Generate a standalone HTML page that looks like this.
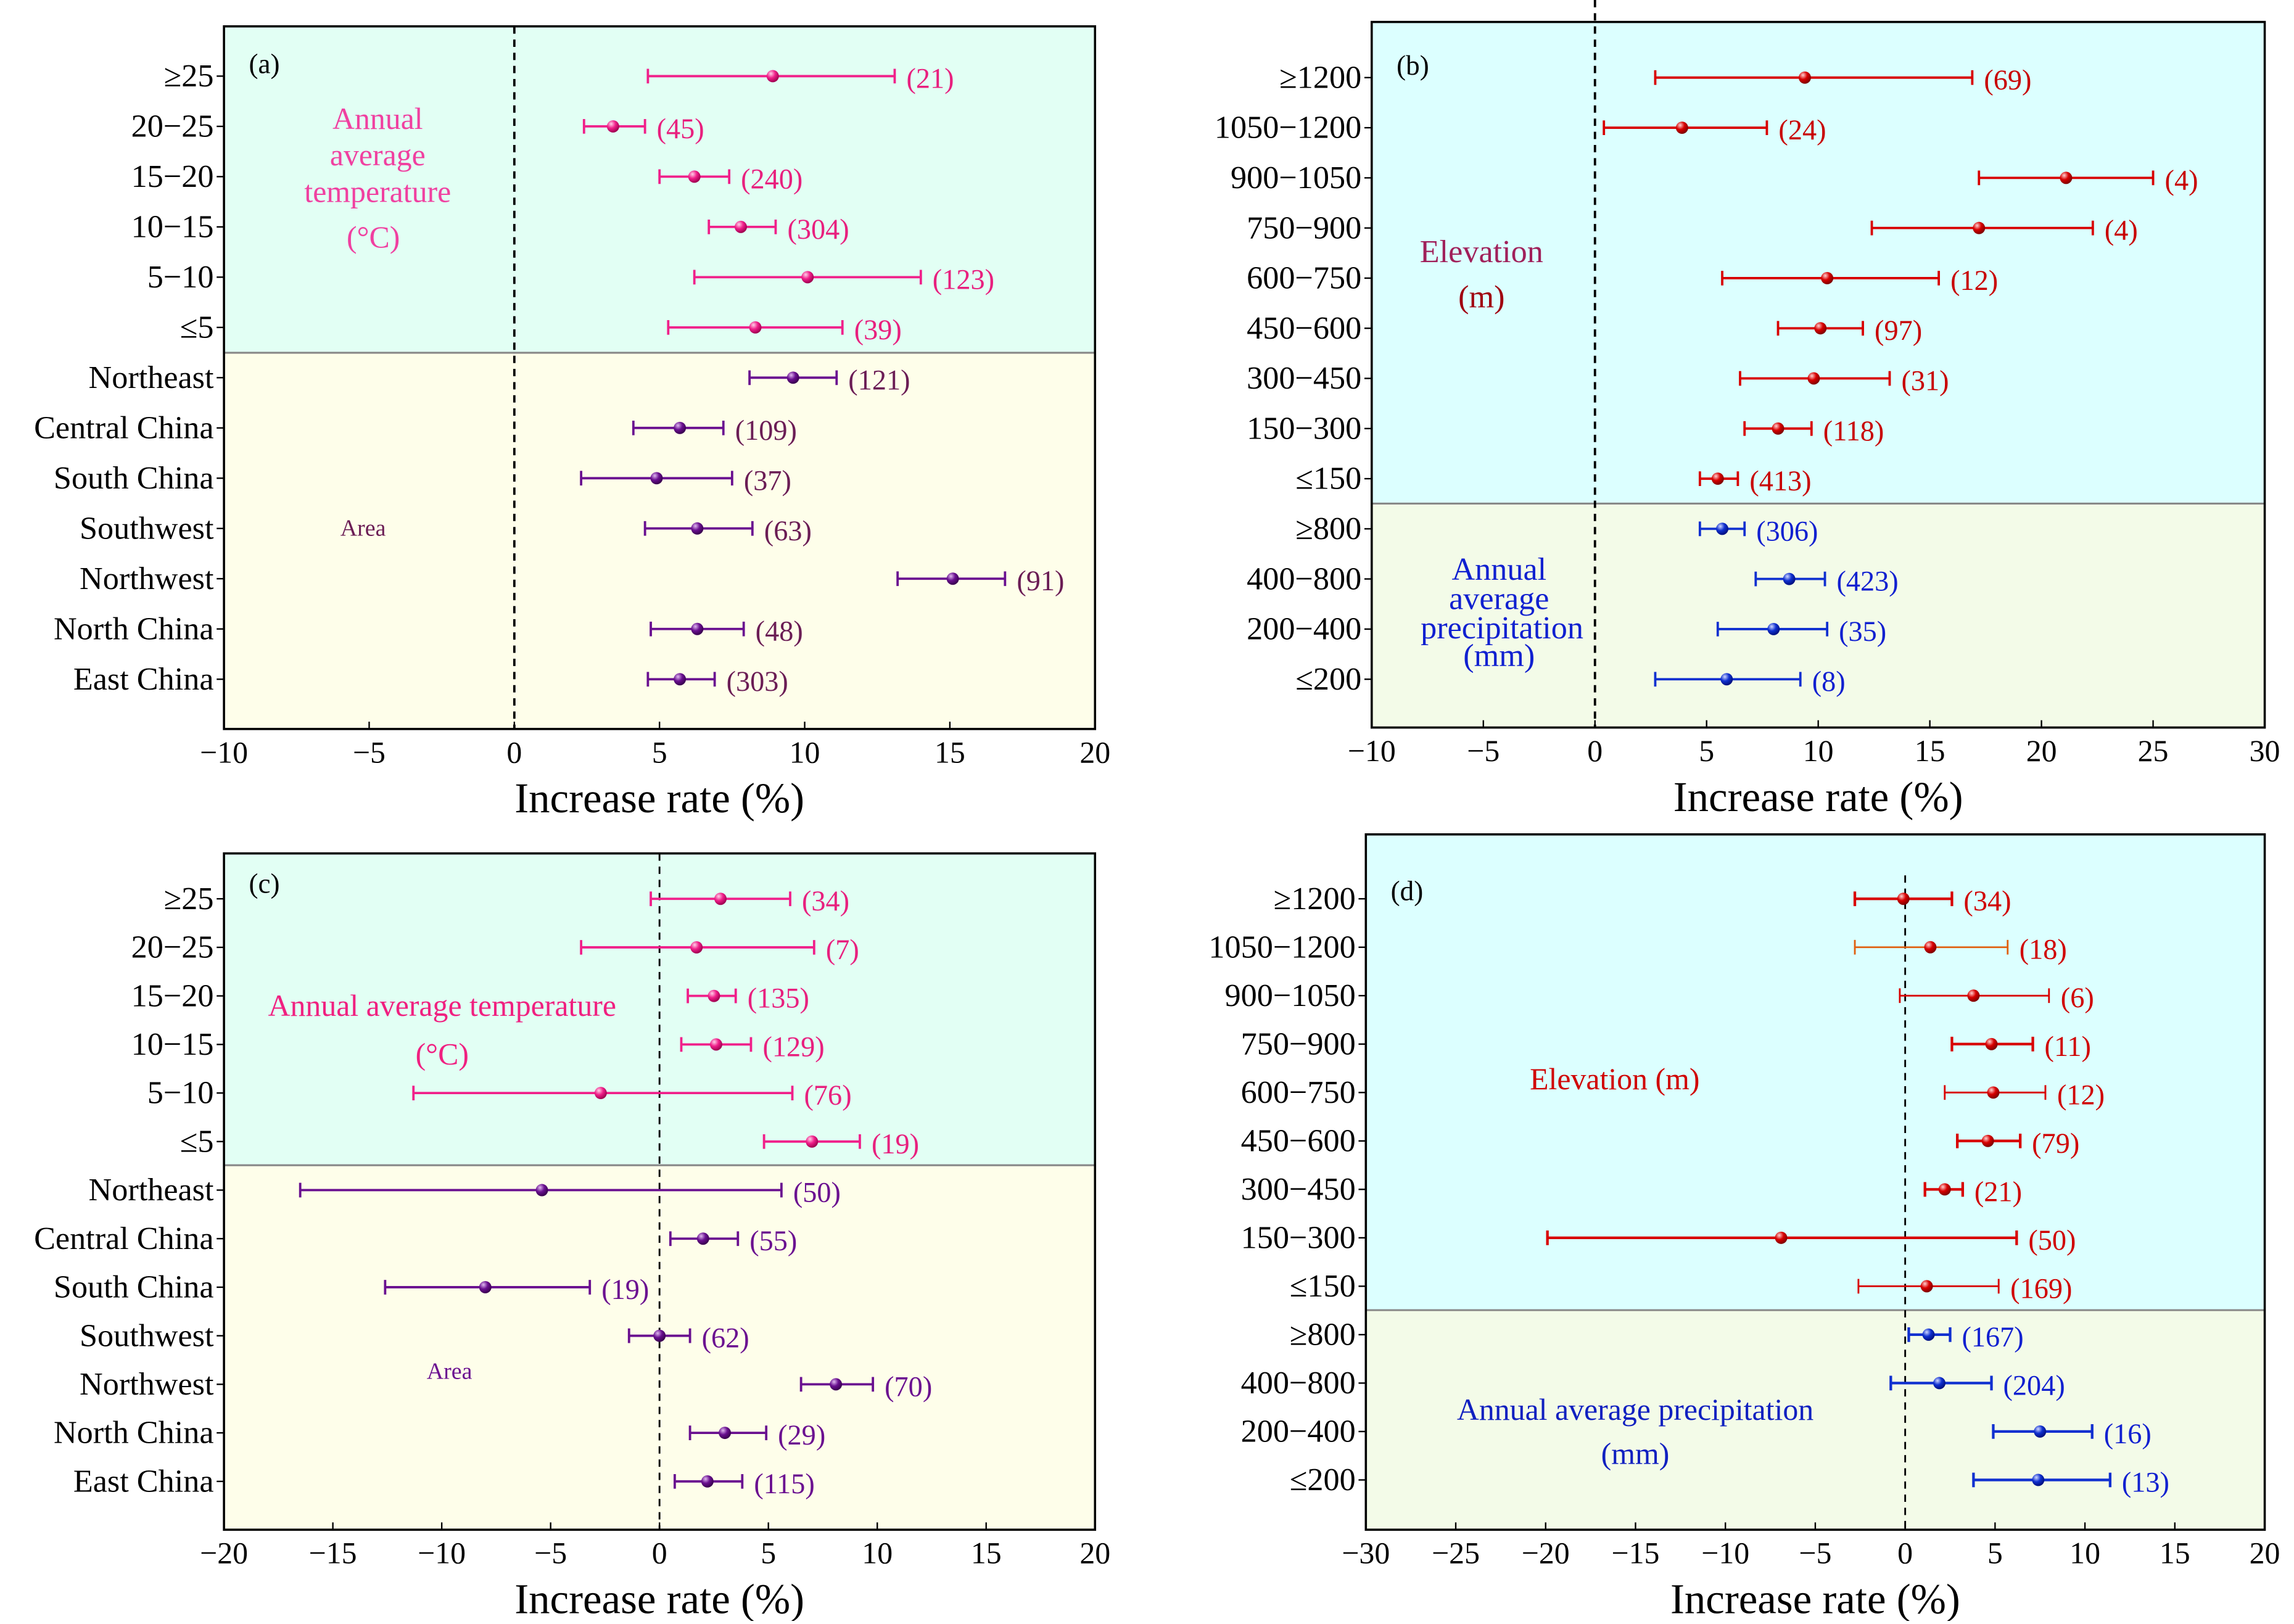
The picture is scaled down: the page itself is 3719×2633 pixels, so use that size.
<!DOCTYPE html>
<html><head><meta charset="utf-8">
<style>
html,body{margin:0;padding:0;background:#fff;}
svg, svg text{font-family:"Liberation Serif","Times New Roman","DejaVu Serif",serif;}
</style></head>
<body>
<svg id="chart" width="3719" height="2628" viewBox="0 0 1567 1107.3" xmlns="http://www.w3.org/2000/svg" font-family="Liberation Serif, serif">
<defs>
<radialGradient id="gPink" cx="35%" cy="30%" r="70%"><stop offset="0" stop-color="#ffd0e8"/><stop offset="0.5" stop-color="#f0208a"/><stop offset="1" stop-color="#a00050"/></radialGradient>
<radialGradient id="gPurp" cx="35%" cy="30%" r="70%"><stop offset="0" stop-color="#e0b8f0"/><stop offset="0.5" stop-color="#6a1090"/><stop offset="1" stop-color="#3a0050"/></radialGradient>
<radialGradient id="gRed" cx="35%" cy="30%" r="70%"><stop offset="0" stop-color="#ffd0d0"/><stop offset="0.5" stop-color="#d80000"/><stop offset="1" stop-color="#800000"/></radialGradient>
<radialGradient id="gBlue" cx="35%" cy="30%" r="70%"><stop offset="0" stop-color="#d0d8ff"/><stop offset="0.5" stop-color="#1030d0"/><stop offset="1" stop-color="#001080"/></radialGradient>
</defs>
</svg>
<script>
// ---- Panel (a) data ----
const aCats = ["≥25","20−25","15−20","10−15","5−10","≤5","Northeast","Central China","South China","Southwest","Northwest","North China","East China"];
const aMean = [8.9,3.4,6.2,7.8,10.1,8.3,9.6,5.7,4.9,6.3,15.1,6.3,5.7];
const aLow  = [4.6,2.4,5.0,6.7,6.2,5.3,8.1,4.1,2.3,4.5,13.2,4.7,4.6];
const aHigh = [13.1,4.5,7.4,9.0,14.0,11.3,11.1,7.2,7.5,8.2,16.9,7.9,6.9];
const aN    = ["(21)","(45)","(240)","(304)","(123)","(39)","(121)","(109)","(37)","(63)","(91)","(48)","(303)"];
const aTicks = [-10,-5,0,5,10,15,20];
// ---- Panel (b) data ----
const bCats = ["≥1200","1050−1200","900−1050","750−900","600−750","450−600","300−450","150−300","≤150","≥800","400−800","200−400","≤200"];
const bMean = [9.4,3.9,21.1,17.2,10.4,10.1,9.8,8.2,5.5,5.7,8.7,8.0,5.9];
const bLow  = [2.7,0.4,17.2,12.4,5.7,8.2,6.5,6.7,4.7,4.7,7.2,5.5,2.7];
const bHigh = [16.9,7.7,25.0,22.3,15.4,12.0,13.2,9.7,6.4,6.7,10.3,10.4,9.2];
const bN    = ["(69)","(24)","(4)","(4)","(12)","(97)","(31)","(118)","(413)","(306)","(423)","(35)","(8)"];
const bTicks = [-10,-5,0,5,10,15,20,25,30];
// ---- Panel (c) data ----
const cCats = aCats;
const cMean = [2.8,1.7,2.5,2.6,-2.7,7.0,-5.4,2.0,-8.0,0.0,8.1,3.0,2.2];
const cLow  = [-0.4,-3.6,1.3,1.0,-11.3,4.8,-16.5,0.5,-12.6,-1.4,6.5,1.4,0.7];
const cHigh = [6.0,7.1,3.5,4.2,6.1,9.2,5.6,3.6,-3.2,1.4,9.8,4.9,3.8];
const cN    = ["(34)","(7)","(135)","(129)","(76)","(19)","(50)","(55)","(19)","(62)","(70)","(29)","(115)"];
const cTicks = [-20,-15,-10,-5,0,5,10,15,20];
// ---- Panel (d) data ----
const dCats = bCats;
const dMean = [-0.1,1.4,3.8,4.8,4.9,4.6,2.2,-6.9,1.2,1.3,1.9,7.5,7.4];
const dLow  = [-2.8,-2.8,-0.3,2.6,2.2,2.9,1.1,-19.9,-2.6,0.2,-0.8,4.9,3.8];
const dHigh = [2.6,5.7,8.0,7.1,7.8,6.4,3.2,6.2,5.2,2.5,4.8,10.4,11.4];
const dN    = ["(34)","(18)","(6)","(11)","(12)","(79)","(21)","(50)","(169)","(167)","(204)","(16)","(13)"];
const dTicks = [-30,-25,-20,-15,-10,-5,0,5,10,15,20];

const NS="http://www.w3.org/2000/svg";
const svg=document.getElementById('chart');
const FF='"Liberation Serif", "Times New Roman", serif';
function mk(tag,attrs,parent,text){const e=document.createElementNS(NS,tag);for(const k in attrs)e.setAttribute(k,attrs[k]);if(text!==undefined){e.textContent=text;e.setAttribute('font-family',FF);}(parent||svg).appendChild(e);return e;}

function panel(cfg){
  const g=mk('g',{});
  
  
  const {L,R,T,B,D,x0,x1,rows}=cfg;
  const X=v=>L+(v-x0)/(x1-x0)*(R-L);
  const Y=i=>rows[0]+i*(rows[1]-rows[0])/(cfg.cats.length-1);
  let r=mk('rect',{x:L,y:T,width:R-L,height:D-T,fill:cfg.bg1},g);
  
  r=mk('rect',{x:L,y:D,width:R-L,height:B-D,fill:cfg.bg2},g);
  
  let l=mk('line',{x1:L,x2:R,y1:D,y2:D,stroke:'#888','stroke-width':1.3},g);
  
  l=mk('line',{x1:X(0),x2:X(0),y1:cfg.zTop,y2:B,stroke:'#000','stroke-width':cfg.zw,'stroke-dasharray':'5,4'},g);
  
  cfg.ticks.forEach(t=>{
    const tk=mk('line',{x1:X(t),x2:X(t),y1:B,y2:B-5,stroke:'#000','stroke-width':1},g);
    
    const tl=mk('text',{x:X(t),y:B+23,'font-size':21,'text-anchor':'middle'},g,t<0?'−'+Math.abs(t):String(t));
    
  });
  const xt=mk('text',{x:(L+R)/2,y:B+57,'font-size':29,'text-anchor':'middle'},g,'Increase rate (%)');
  
  cfg.cats.forEach((c,i)=>{
    const y=Y(i);
    const tk=mk('line',{x1:L-5,x2:L,y1:y,y2:y,stroke:'#000','stroke-width':1},g);
    
    const tl=mk('text',{x:L-7,y:y+7,'font-size':22,'text-anchor':'end'},g,c);
    
    const up=i<cfg.split;
    const col=cfg.barCol ? cfg.barCol(i) : (up?cfg.c1:cfg.c2);
    const lo=X(cfg.low[i]),hi=X(cfg.high[i]);
    const sw=cfg.sw?cfg.sw(i):1.6;
    const bar=mk('path',{d:`M${lo},${y}H${hi}M${lo},${y-5}V${y+5}M${hi},${y-5}V${y+5}`,stroke:col,'stroke-width':sw,fill:'none'},g);
    
    const dot=mk('circle',{cx:X(cfg.mean[i]),cy:y,r:4.2,fill:up?cfg.g1:cfg.g2},g);
    
    const nl=mk('text',{x:hi+8,y:y+8,'font-size':19.5,fill:up?cfg.t1:cfg.t2},g,cfg.n[i]);
    
  });
  const fr=mk('rect',{x:L,y:T,width:R-L,height:B-T,fill:'none',stroke:'#000','stroke-width':1.5},g);
  
  const pl=mk('text',{x:L+17,y:cfg.labY,'font-size':19},g,'('+cfg.id+')');
  
  cfg.notes.forEach(n=>{
    const t=mk('text',{x:n[0],y:n[1],'font-size':n[3],'text-anchor':'middle',fill:n[4]},g,n[2]);
    
  });
}

panel({id:'a',L:153,R:748,T:18,B:498,D:241,x0:-10,x1:20,rows:[52,464],zTop:18,zw:1.6,split:6,
  cats:aCats,mean:aMean,low:aLow,high:aHigh,n:aN,ticks:aTicks,bg1:'#e2fff4',bg2:'#fefeea',
  c1:'#f0208a',c2:'#6a1090',g1:'url(#gPink)',g2:'url(#gPurp)',t1:'#e8207e',t2:'#6b1d55',labY:50,
  notes:[[258,88,'Annual',21,'#f040a0'],[258,113,'average',21,'#f040a0'],[258,138,'temperature',21,'#f040a0'],[255,169,'(°C)',21,'#f040a0'],[248,366,'Area',16,'#6b1d55']]});
panel({id:'b',L:937,R:1547,T:15,B:497,D:344,x0:-10,x1:30,rows:[53,464],zTop:0,zw:1.6,split:9,
  cats:bCats,mean:bMean,low:bLow,high:bHigh,n:bN,ticks:bTicks,bg1:'#dcffff',bg2:'#f3fbe8',
  c1:'#d80000',c2:'#1030d0',g1:'url(#gRed)',g2:'url(#gBlue)',t1:'#c80000',t2:'#1020d0',labY:51,
  notes:[[1012,179,'Elevation',22,'#a0205a'],[1012,210,'(m)',22,'#a00010'],[1024,396,'Annual',22,'#1020d0'],[1024,416,'average',22,'#1020d0'],[1026,436,'precipitation',22,'#1020d0'],[1024,455,'(mm)',22,'#1020d0']]});
panel({id:'c',L:153,R:748,T:583,B:1045,D:796,x0:-20,x1:20,rows:[614,1012],zTop:583,zw:1.2,split:6,
  cats:cCats,mean:cMean,low:cLow,high:cHigh,n:cN,ticks:cTicks,bg1:'#e2fff4',bg2:'#fefeea',
  c1:'#f0208a',c2:'#6a1090',g1:'url(#gPink)',g2:'url(#gPurp)',t1:'#e8207e',t2:'#6b1090',labY:610,
  notes:[[302,694,'Annual average temperature',21,'#f02080'],[302,727,'(°C)',21,'#f02080'],[307,942,'Area',16,'#6b1090']]});
panel({id:'d',L:933,R:1547,T:570,B:1045,D:895,x0:-30,x1:20,rows:[614,1011],zTop:598,zw:1.2,split:9,
  cats:dCats,mean:dMean,low:dLow,high:dHigh,n:dN,ticks:dTicks,bg1:'#dcffff',bg2:'#f3fbe8',
  c1:'#d80000',c2:'#1030d0',g1:'url(#gRed)',g2:'url(#gBlue)',t1:'#d00000',t2:'#1020d0',labY:615,
  barCol:i=>i===1?'#e06010':(i<9?'#d80000':'#1030d0'),sw:i=>(i===1||i===2||i===4||i===8)?1.2:1.8,
  notes:[[1103,744,'Elevation (m)',21,'#d00000'],[1117,970,'Annual average precipitation',21,'#1020c0'],[1117,1000,'(mm)',21,'#1020c0']]});
</script>
</body></html>
